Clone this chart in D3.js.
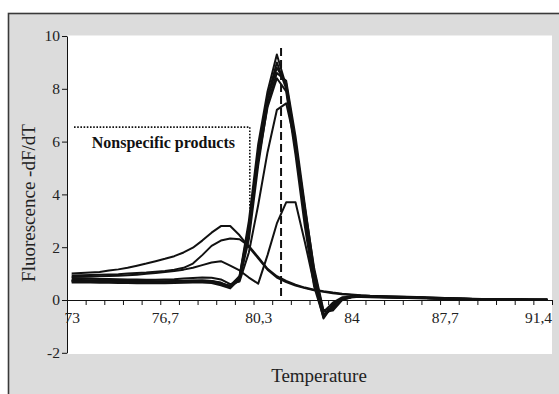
<!DOCTYPE html>
<html>
<head>
<meta charset="utf-8">
<script src="https://cdn.jsdelivr.net/npm/d3@7"></script>
<style>
  html, body { margin: 0; padding: 0; background: #fff; }
  svg { display: block; }
</style>
</head>
<body>
<svg id="chart"></svg>
<script>
// Data
const temperatures = [73.0, 73.4, 73.7, 74.1, 74.5, 74.8, 75.2, 75.6, 75.9, 76.3,
    76.7, 77.0, 77.4, 77.8, 78.1, 78.5, 78.9, 79.2, 79.6, 80.0,
    80.3, 80.7, 81.1, 81.5, 81.8, 82.2, 82.6, 82.9, 83.3, 83.7,
    84.0, 84.4, 84.8, 85.1, 85.5, 85.9, 86.2, 86.6, 87.0, 87.3,
    87.7, 88.1, 88.4, 88.8, 89.2, 89.5, 89.9, 90.3, 90.6, 91.0,
    91.4, 91.7];

// nonspecific products (broad low peaks)
const nonspecific1 = [1.0, 1.02, 1.04, 1.06, 1.12, 1.16, 1.22, 1.3, 1.38, 1.47,
    1.56, 1.66, 1.8, 1.98, 2.25, 2.55, 2.8, 2.8, 2.45, 2.0,
    1.58, 1.15, 0.85, 0.68, 0.55, 0.45, 0.37, 0.31, 0.26, 0.22,
    0.19, 0.17, 0.15, 0.14, 0.13, 0.12, 0.11, 0.1, 0.09, 0.08,
    0.07, 0.06, 0.05, 0.04, 0.03, 0.03, 0.02, 0.02, 0.02, 0.01,
    0.01, 0.01];
const nonspecific2 = [0.93, 0.94, 0.95, 0.96, 0.97, 0.98, 1.0, 1.02, 1.04, 1.07,
    1.1, 1.15, 1.22, 1.38, 1.7, 2.05, 2.25, 2.33, 2.3, 2.05,
    1.62, 1.18, 0.9, 0.72, 0.58, 0.47, 0.39, 0.33, 0.28, 0.24,
    0.21, 0.18, 0.16, 0.15, 0.14, 0.13, 0.12, 0.11, 0.1, 0.09,
    0.08, 0.07, 0.06, 0.05, 0.04, 0.03, 0.03, 0.02, 0.02, 0.02,
    0.01, 0.01];
const nonspecific3 = [0.87, 0.88, 0.89, 0.9, 0.91, 0.92, 0.94, 0.96, 0.99, 1.02,
    1.06, 1.1, 1.15, 1.22, 1.32, 1.42, 1.47, 1.3, 1.12, 0.85,
    0.62, 1.7, 2.9, 3.7, 3.7, 2.2, 0.6, -0.45, -0.1, 0.1,
    0.12, 0.11, 0.1, 0.09, 0.09, 0.08, 0.08, 0.07, 0.06, 0.05,
    0.05, 0.04, 0.04, 0.03, 0.03, 0.02, 0.02, 0.02, 0.01, 0.01,
    0.01, 0.01];

// specific product (sharp peak near 81 °C)
const specific1 = [0.72, 0.73, 0.73, 0.72, 0.72, 0.71, 0.7, 0.7, 0.69, 0.69,
    0.69, 0.7, 0.71, 0.72, 0.72, 0.7, 0.62, 0.5, 0.9, 3.0,
    5.9, 7.9, 9.3, 8.1, 5.7, 3.1, 0.7, -0.7, -0.2, 0.08,
    0.12, 0.13, 0.12, 0.12, 0.11, 0.1, 0.1, 0.09, 0.08, 0.07,
    0.06, 0.05, 0.04, 0.04, 0.03, 0.03, 0.02, 0.02, 0.02, 0.01,
    0.01, 0.01];
const specific2 = [0.76, 0.76, 0.75, 0.75, 0.74, 0.74, 0.73, 0.72, 0.72, 0.71,
    0.71, 0.72, 0.73, 0.74, 0.74, 0.72, 0.64, 0.52, 0.85, 2.7,
    5.6, 7.7, 9.0, 8.0, 5.8, 3.3, 0.9, -0.55, -0.35, 0.02,
    0.1, 0.12, 0.12, 0.11, 0.11, 0.1, 0.09, 0.09, 0.08, 0.07,
    0.06, 0.05, 0.05, 0.04, 0.03, 0.03, 0.02, 0.02, 0.02, 0.01,
    0.01, 0.01];
const specific3 = [0.66, 0.66, 0.66, 0.65, 0.65, 0.64, 0.64, 0.63, 0.63, 0.63,
    0.63, 0.64, 0.65, 0.66, 0.66, 0.64, 0.56, 0.44, 0.8, 2.5,
    5.4, 7.6, 8.8, 8.2, 6.0, 3.4, 1.0, -0.6, -0.25, 0.05,
    0.11, 0.12, 0.11, 0.11, 0.1, 0.1, 0.09, 0.08, 0.08, 0.07,
    0.06, 0.05, 0.04, 0.04, 0.03, 0.03, 0.02, 0.02, 0.01, 0.01,
    0.01, 0.01];
const specific4 = [0.74, 0.74, 0.74, 0.73, 0.73, 0.72, 0.72, 0.71, 0.71, 0.7,
    0.7, 0.71, 0.72, 0.73, 0.74, 0.72, 0.66, 0.5, 0.75, 2.3,
    5.1, 7.4, 8.6, 8.3, 6.2, 3.6, 1.1, -0.45, -0.4, 0.0,
    0.1, 0.12, 0.12, 0.11, 0.1, 0.1, 0.09, 0.09, 0.08, 0.07,
    0.06, 0.05, 0.05, 0.04, 0.03, 0.03, 0.02, 0.02, 0.02, 0.01,
    0.01, 0.01];
const specific5 = [0.7, 0.7, 0.7, 0.69, 0.69, 0.68, 0.68, 0.67, 0.67, 0.67,
    0.67, 0.68, 0.69, 0.7, 0.7, 0.68, 0.6, 0.55, 0.9, 2.8,
    5.3, 7.3, 8.4, 7.9, 5.5, 2.8, 0.5, -0.65, -0.15, 0.06,
    0.11, 0.12, 0.12, 0.11, 0.1, 0.1, 0.09, 0.08, 0.08, 0.07,
    0.06, 0.05, 0.04, 0.04, 0.03, 0.03, 0.02, 0.02, 0.02, 0.01,
    0.01, 0.01];
const specific6 = [0.82, 0.82, 0.81, 0.8, 0.8, 0.79, 0.78, 0.78, 0.77, 0.77,
    0.78, 0.79, 0.81, 0.83, 0.85, 0.84, 0.78, 0.6, 0.7, 1.8,
    3.6, 5.6, 7.2, 7.45, 5.9, 3.5, 1.2, -0.4, -0.3, 0.05,
    0.11, 0.12, 0.12, 0.11, 0.1, 0.1, 0.09, 0.09, 0.08, 0.07,
    0.06, 0.05, 0.05, 0.04, 0.03, 0.03, 0.02, 0.02, 0.02, 0.01,
    0.01, 0.01];

const yTicks = [-2, 0, 2, 4, 6, 8, 10];
const tickEvery = 2;   // tick mark every 2 categories
const labelEvery = 10; // label every 10 categories

// annotations (in category index / y units)
const nonspecificBox = {x0: 0.25, x1: 19.1, top: 6.55, bottom: 2.65};
const peakMarker = {x: 22.45, top: 9.55};
const boxLabel = {x: 2.15, y: 5.75, text: "Nonspecific products"};

// Configurations
let width = 559;
let height = 394;
let marginLeft = 67;   // plot area left
let marginRight = 7;   // plot area right gap
let marginTop = 36;    // plot area top
let plotBottom = 354;  // plot area bottom
let font = "'Liberation Serif', 'Times New Roman', serif";
let color = "#111";

const series = [nonspecific1, nonspecific2, nonspecific3,
    specific1, specific2, specific3, specific4, specific5, specific6];

const idx = d3.range(temperatures.length);

// Scales
const xEdge = d3.scaleLinear([0, temperatures.length], [marginLeft, width - marginRight]);
const xPoint = d3.scalePoint(idx, [marginLeft, width - marginRight]).padding(0.5);
const xIdx = d3.scaleLinear([0, idx.length - 1], [xPoint(0), xPoint(idx.length - 1)]);
const y = d3.scaleLinear([-2, 10], [300 + 2 * 26.4, 300 - 10 * 26.4]);

const locale = d3.formatLocale({decimal: ",", thousands: ".", grouping: [3], currency: ["", ""], minus: "-"});
const fmt = locale.format("~f");
const fmtY = locale.format("d");

const svg = d3.select("#chart")
    .attr("width", width)
    .attr("height", height)
    .attr("viewBox", [0, 0, width, height]);

// outer frame
svg.append("rect")
    .attr("x", 8.5).attr("y", 13.5)
    .attr("width", width + 10).attr("height", height)
    .attr("fill", "#dcdcdc")
    .attr("stroke", "#3a3a3a")
    .attr("stroke-width", 1.6);

// plot area
svg.append("rect")
    .attr("x", marginLeft).attr("y", marginTop - 0.5)
    .attr("width", width - marginRight - marginLeft)
    .attr("height", plotBottom - marginTop + 0.5)
    .attr("fill", "#fff");

// y axis
svg.append("g")
    .attr("transform", `translate(${marginLeft},0)`)
    .call(d3.axisLeft(y).tickValues(yTicks).tickSize(5).tickSizeOuter(0).tickPadding(2).tickFormat(fmtY))
    .call(g => g.selectAll("text").attr("font-family", font).attr("font-size", 15.5).attr("fill", "#222"))
    .call(g => g.selectAll("line, path").attr("stroke", "#111"));

// x axis: tick marks on category edges
svg.append("g")
    .attr("transform", `translate(0,${y(0)})`)
    .call(d3.axisBottom(xEdge).tickValues(d3.range(0, temperatures.length + 1, tickEvery))
        .tickSize(5).tickSizeOuter(0).tickFormat(""))
    .call(g => g.selectAll("line, path").attr("stroke", "#111"));

// x axis: labels centred on categories
svg.append("g")
    .attr("transform", `translate(0,${y(0)})`)
    .call(d3.axisBottom(xPoint).tickValues(idx.filter(i => i % labelEvery === 0))
        .tickSize(0).tickPadding(12).tickFormat(i => fmt(temperatures[i])))
    .call(g => g.select(".domain").remove())
    .call(g => g.selectAll("text").attr("font-family", font).attr("font-size", 15.5).attr("fill", "#222"));

// nonspecific box (dotted)
svg.append("path")
    .attr("d", d3.line()([
        [xIdx(nonspecificBox.x0), y(nonspecificBox.top)],
        [xIdx(nonspecificBox.x1), y(nonspecificBox.top)],
        [xIdx(nonspecificBox.x1), y(nonspecificBox.bottom)]]))
    .attr("fill", "none")
    .attr("stroke", "#111")
    .attr("stroke-width", 1.6)
    .attr("stroke-dasharray", "1.6,1.6");

svg.append("text")
    .attr("x", xIdx(boxLabel.x))
    .attr("y", y(boxLabel.y))
    .attr("font-family", font)
    .attr("font-size", 16)
    .attr("font-weight", "bold")
    .attr("fill", "#111")
    .text(boxLabel.text);

// curves
const line = d3.line()
    .x((d, i) => xPoint(i))
    .y(d => y(d));

svg.append("g")
    .attr("fill", "none")
    .attr("stroke", color)
    .attr("stroke-width", 2)
    .attr("stroke-linejoin", "round")
    .selectAll("path")
    .data(series)
    .join("path")
    .attr("d", line);

// peak marker (dashed)
svg.append("line")
    .attr("x1", xIdx(peakMarker.x)).attr("x2", xIdx(peakMarker.x))
    .attr("y1", y(peakMarker.top)).attr("y2", y(0))
    .attr("stroke", "#111")
    .attr("stroke-width", 2)
    .attr("stroke-dasharray", "8,4");

// axis titles
svg.append("text")
    .attr("transform", `translate(35,203) rotate(-90)`)
    .attr("text-anchor", "middle")
    .attr("font-family", font)
    .attr("font-size", 19)
    .attr("fill", "#222")
    .text("Fluorescence -dF/dT");

svg.append("text")
    .attr("x", 319)
    .attr("y", 381.5)
    .attr("text-anchor", "middle")
    .attr("font-family", font)
    .attr("font-size", 19)
    .attr("fill", "#222")
    .text("Temperature");
</script>
</body>
</html>
